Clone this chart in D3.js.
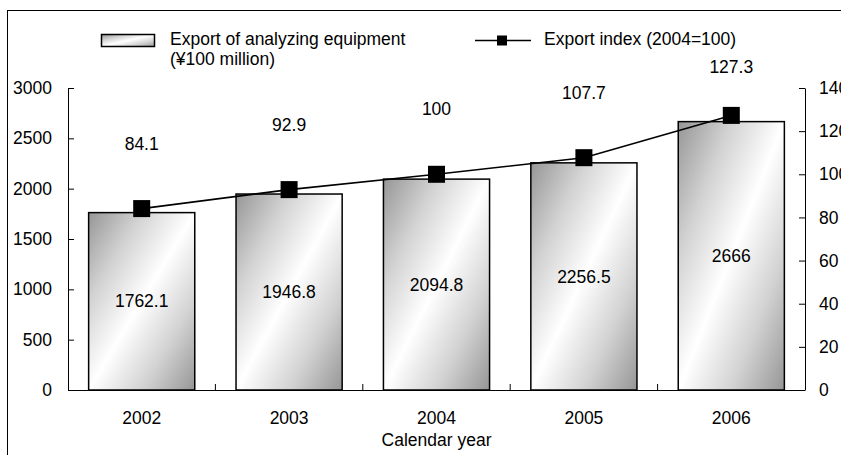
<!DOCTYPE html>
<html>
<head>
<meta charset="utf-8">
<script src="https://cdn.jsdelivr.net/npm/d3@7"></script>
<style>
  html, body { margin: 0; padding: 0; background: #fff; }
  svg { display: block; font-family: "Liberation Sans", Arial, sans-serif; }
</style>
</head>
<body>
<svg id="chart" width="841" height="455"></svg>
<script>
// Export of analyzing equipment and export index, 2002-2006
const years = ["2002", "2003", "2004", "2005", "2006"];
const exportValues = [1762.1, 1946.8, 2094.8, 2256.5, 2666];
const exportIndex = [84.1, 92.9, 100, 107.7, 127.3];
const leftTicks = [0, 500, 1000, 1500, 2000, 2500, 3000];
const rightTicks = [0, 20, 40, 60, 80, 100, 120, 140];

const svg = d3.select("#chart");
const plot = { left: 68, right: 805, top: 88, bottom: 390 };
const FS = 17.5;

const x = d3.scaleBand().domain(years).range([plot.left, plot.right]).paddingInner(0.28).paddingOuter(0.14);
const xOuter = d3.scaleBand().domain(years).range([plot.left, plot.right]);
const yL = d3.scaleLinear().domain([0, 3000]).range([plot.bottom, plot.top]);
const yR = d3.scaleLinear().domain([0, 140]).range([plot.bottom, plot.top]);

// Diagonal shaded fill for the bars
const defs = svg.append("defs");
const grad = defs.append("linearGradient").attr("id", "barFill")
  .attr("x1", 0).attr("y1", 0).attr("x2", 1).attr("y2", 1);
[[0, "#969696"], [0.25, "#d2d2d2"], [0.5, "#ffffff"], [0.75, "#d2d2d2"], [1, "#969696"]]
  .forEach(([o, c]) => grad.append("stop").attr("offset", o).attr("stop-color", c));

// Outer frame
svg.append("rect").attr("x", 7.5).attr("y", 10.5).attr("width", 900).attr("height", 500)
  .attr("fill", "none").attr("stroke", "#000").attr("stroke-width", 1);

// Bars
const bars = svg.append("g");
bars.selectAll("rect").data(exportValues).join("rect")
  .attr("x", (d, i) => x(years[i]))
  .attr("y", d => yL(d))
  .attr("width", x.bandwidth())
  .attr("height", d => yL(0) - yL(d))
  .attr("fill", "url(#barFill)")
  .attr("stroke", "#000").attr("stroke-width", 1.5);

bars.selectAll("text").data(exportValues).join("text")
  .attr("x", (d, i) => x(years[i]) + x.bandwidth() / 2)
  .attr("y", d => (yL(d) + yL(0)) / 2)
  .attr("dy", "0.35em")
  .attr("text-anchor", "middle")
  .attr("font-size", FS)
  .text(d => d);

// Axes
const axisL = d3.axisLeft(yL).tickValues(leftTicks).tickFormat(d => d)
  .tickSizeInner(-6).tickSizeOuter(0).tickPadding(16);
const gL = svg.append("g").attr("transform", `translate(${plot.left},0)`).call(axisL);
const axisR = d3.axisRight(yR).tickValues(rightTicks).tickFormat(d => d)
  .tickSizeInner(-6).tickSizeOuter(0).tickPadding(14);
const gR = svg.append("g").attr("transform", `translate(${plot.right},0)`).call(axisR);
[gL, gR].forEach(g => {
  g.select(".domain").attr("stroke", "#000");
  g.selectAll(".tick line").attr("stroke", "#000");
  g.selectAll(".tick text").attr("font-size", FS).attr("fill", "#000")
    .attr("font-family", "'Liberation Sans', Arial, sans-serif");
});

// Category axis with boundary ticks
const gX = svg.append("g");
gX.append("line").attr("x1", plot.left).attr("x2", plot.right)
  .attr("y1", plot.bottom + 0.5).attr("y2", plot.bottom + 0.5).attr("stroke", "#000");
gX.selectAll("line.sep").data(years.slice(1)).join("line").attr("class", "sep")
  .attr("x1", d => xOuter(d)).attr("x2", d => xOuter(d))
  .attr("y1", plot.bottom).attr("y2", plot.bottom - 6).attr("stroke", "#000");
gX.selectAll("text").data(years).join("text")
  .attr("x", d => xOuter(d) + xOuter.bandwidth() / 2)
  .attr("y", 418).attr("dy", "0.35em")
  .attr("text-anchor", "middle").attr("font-size", FS)
  .text(d => d);
svg.append("text").attr("x", (plot.left + plot.right) / 2).attr("y", 440).attr("dy", "0.35em")
  .attr("text-anchor", "middle").attr("font-size", FS).text("Calendar year");

// Index line
const cx = i => xOuter(years[i]) + xOuter.bandwidth() / 2;
const line = d3.line().x((d, i) => cx(i)).y(d => yR(d));
svg.append("path").datum(exportIndex).attr("d", line)
  .attr("fill", "none").attr("stroke", "#000").attr("stroke-width", 1.6);
const mk = 17;
svg.append("g").selectAll("rect").data(exportIndex).join("rect")
  .attr("x", (d, i) => cx(i) - mk / 2).attr("y", d => yR(d) - mk / 2)
  .attr("width", mk).attr("height", mk).attr("fill", "#000");
svg.append("g").selectAll("text").data(exportIndex).join("text")
  .attr("x", (d, i) => cx(i))
  .attr("y", d => Math.max(yR(d) - 65, 67)).attr("dy", "0.35em")
  .attr("text-anchor", "middle").attr("font-size", FS)
  .text(d => d);

// Legend
const LFS = 17.5;
const lg = svg.append("g");
lg.append("rect").attr("x", 101.5).attr("y", 34.5).attr("width", 53).attr("height", 12)
  .attr("fill", "url(#barFill)").attr("stroke", "#000").attr("stroke-width", 1.5);
lg.append("text").attr("x", 170).attr("y", 39).attr("dy", "0.35em").attr("font-size", LFS)
  .text("Export of analyzing equipment");
lg.append("text").attr("x", 170).attr("y", 59).attr("dy", "0.35em").attr("font-size", LFS)
  .text("(¥100 million)");
lg.append("line").attr("x1", 475).attr("x2", 531).attr("y1", 40.5).attr("y2", 40.5)
  .attr("stroke", "#000").attr("stroke-width", 1.6);
lg.append("rect").attr("x", 497).attr("y", 35.5).attr("width", 10).attr("height", 10).attr("fill", "#000");
lg.append("text").attr("x", 544).attr("y", 39).attr("dy", "0.35em").attr("font-size", LFS)
  .text("Export index (2004=100)");
</script>
</body>
</html>
